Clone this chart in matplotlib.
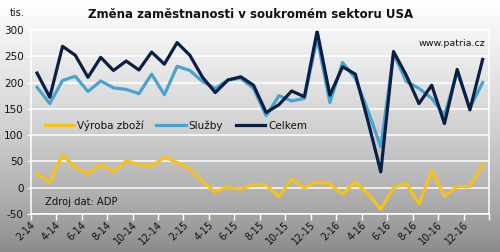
import numpy as np
import matplotlib
matplotlib.use("Agg")
import matplotlib.pyplot as plt
from matplotlib.colors import LinearSegmentedColormap

# ---- data (thousands) ----
months = ["2-14", "3-14", "4-14", "5-14", "6-14", "7-14", "8-14", "9-14", "10-14", "11-14", "12-14", "1-15",
          "2-15", "3-15", "4-15", "5-15", "6-15", "7-15", "8-15", "9-15", "10-15", "11-15", "12-15", "1-16",
          "2-16", "3-16", "4-16", "5-16", "6-16", "7-16", "8-16", "9-16", "10-16", "11-16", "12-16", "1-17"]
goods = [26, 11, 63, 38, 26, 44, 30, 51, 44, 41, 58, 48, 35, 11, -8, 1, -3, 6, 5, -17, 16, 0, 11, 7,
         -12, 11, -12, -41, 0, 8, -31, 32, -16, 2, 2, 44]
services = [191, 160, 204, 212, 183, 203, 190, 187, 179, 216, 177, 231, 223, 202, 189, 205, 208, 189,
            137, 175, 165, 170, 284, 162, 238, 208, 146, 78, 255, 202, 189, 170, 138, 220, 152, 200]
total = [218, 172, 269, 252, 210, 248, 223, 241, 224, 258, 235, 276, 252, 210, 181, 205, 211, 195,
         143, 158, 184, 173, 298, 176, 230, 216, 126, 30, 259, 214, 160, 195, 122, 225, 148, 244]
series_names = ["Výroba zboží", "Služby", "Celkem"]
y_ticks = [-50, 0, 50, 100, 150, 200, 250, 300]

W, H, DPI = 500, 252, 100
fig = plt.figure(figsize=(W / DPI, H / DPI), dpi=DPI)

# gradient background
bg = fig.add_axes([0, 0, 1, 1], zorder=-10)
cmap = LinearSegmentedColormap.from_list(
    "g", [(0, "#ffffff"), (0.15, "#f2f2f2"), (0.5, "#d2d2d2"), (0.8, "#adadad"), (1, "#8c8c8c")])
grad = np.linspace(0, 1, 256).reshape(-1, 1)
bg.imshow(grad, aspect="auto", cmap=cmap, extent=[0, 1, 0, 1], origin="upper")
bg.set_axis_off()

ax = fig.add_axes([30.7 / W, 1 - 214 / H, (489 - 30.7) / W, (214 - 30) / H])
ax.set_facecolor("none")

x = np.arange(len(months))
ax.plot(x, goods, color="#f5c21b", lw=2.3, label=series_names[0], solid_joinstyle="round")
ax.plot(x, services, color="#4aa3cf", lw=2.3, label=series_names[1], solid_joinstyle="round")
ax.plot(x, total, color="#0b1f45", lw=2.3, label=series_names[2], solid_joinstyle="round")

ax.set_xlim(-0.5, len(months) - 0.5)
ax.set_ylim(-50, 300)
ax.set_yticks(y_ticks)
ax.set_yticklabels([str(v) for v in y_ticks], fontsize=7.5, color="#111111")
ax.grid(axis="y", color="white", lw=1.1)
ax.tick_params(axis="y", length=3, color="white", pad=2)

# x ticks: marks at boundaries, labels at every second category
ax.set_xticks(np.arange(-0.5, len(months), 2))
ax.set_xticklabels([])
ax.tick_params(axis="x", which="major", length=4, color="white", width=1)
ax.set_xticks(x[::2], minor=True)
ax.set_xticklabels(months[::2], minor=True, rotation=45, ha="right", va="top",
                   fontsize=7, color="#111111")
ax.tick_params(axis="x", which="minor", length=0, pad=4)

for s in ax.spines.values():
    s.set_color("white")
    s.set_linewidth(1.1)

leg = ax.legend(loc="center left", bbox_to_anchor=(10 / 458, (119 + 50) / 350), ncol=3,
                frameon=False, fontsize=7.5, handlelength=2.8, handletextpad=0.3,
                columnspacing=1.2, borderaxespad=0)
for t in leg.get_texts():
    t.set_color("#111111")

fig.text(251 / W, 1 - 14 / H, "Změna zaměstnanosti v soukromém sektoru USA", ha="center",
         va="center", fontsize=8.5, fontweight="bold", color="#111111")
fig.text(10 / W, 1 - 13 / H, "tis.", ha="left", va="center", fontsize=7, color="#111111")
fig.text(485 / W, 1 - 43 / H, "www.patria.cz", ha="right", va="center", fontsize=6.8, color="#111111")
fig.text(45 / W, 1 - 202 / H, "Zdroj dat: ADP", ha="left", va="center", fontsize=7.2, color="#111111")

fig.savefig("out.png", dpi=DPI)
